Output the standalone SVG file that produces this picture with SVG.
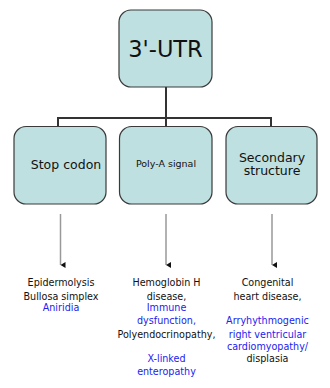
<svg xmlns="http://www.w3.org/2000/svg" width="330" height="388" viewBox="0 0 330 388">
<defs>
<style>
.box{fill:#bfe0e0;stroke:#3a3a3a;stroke-width:1.2}
.t{font-family:"DejaVu Sans",Verdana,sans-serif;text-anchor:middle;fill:#111}
.d{font-family:"DejaVu Sans",Verdana,sans-serif;text-anchor:middle;font-size:9.6px;fill:#111}
.b{fill:#2222ee}
.tree{fill:none;stroke:#333;stroke-width:2}
.arr{stroke:#999;stroke-width:1.5}
</style>
<marker id="ah" markerWidth="6" markerHeight="6" refX="3" refY="5" orient="auto" markerUnits="userSpaceOnUse" viewBox="0 0 6 6">
<path d="M0,0 L6,0 L3,5 Z" fill="#111"/>
</marker>
</defs>
<g id="connectors">
<path class="tree" d="M166,87 V118 M58,126 V118 H271 V126 M166,118 V126"/>
<line class="arr" x1="60.5" y1="214" x2="60.5" y2="265" marker-end="url(#ah)"/>
<line class="arr" x1="166" y1="214" x2="166" y2="265" marker-end="url(#ah)"/>
<line class="arr" x1="272" y1="214" x2="272" y2="265" marker-end="url(#ah)"/>
</g>
<g id="utr">
<rect class="box" x="119" y="10" width="93" height="77" rx="12"/>
<text class="t" x="165.5" y="57" font-size="22.5">3'-UTR</text>
</g>
<g id="stop">
<rect class="box" x="14" y="126.5" width="92" height="77.5" rx="12"/>
<text class="t" x="66" y="169" font-size="12.5">Stop codon</text>
</g>
<g id="polya">
<rect class="box" x="119.5" y="126.5" width="92.5" height="77.5" rx="12"/>
<text class="t" x="166" y="167" font-size="9.5">Poly-A signal</text>
</g>
<g id="secondary">
<rect class="box" x="226" y="126.5" width="91" height="77.5" rx="12"/>
<text class="t" x="272" y="162" font-size="12.5">Secondary</text>
<text class="t" x="272" y="175" font-size="12.5">structure</text>
</g>
<g id="stop-diseases">
<text class="d" x="61" y="286">Epidermolysis</text>
<text class="d" x="61" y="299.5">Bullosa simplex</text>
<text class="d b" x="61" y="311">Aniridia</text>
</g>
<g id="polya-diseases">
<text class="d" x="166.5" y="286">Hemoglobin H</text>
<text class="d" x="166.5" y="299.5">disease,</text>
<text class="d b" x="166.5" y="311">Immune</text>
<text class="d b" x="166.5" y="324">dysfunction,</text>
<text class="d" x="166.5" y="337.5">Polyendocrinopathy,</text>
<text class="d b" x="166.5" y="361.5">X-linked</text>
<text class="d b" x="166.5" y="375">enteropathy</text>
</g>
<g id="secondary-diseases">
<text class="d" x="267.5" y="286">Congenital</text>
<text class="d" x="267.5" y="299.5">heart disease,</text>
<text class="d b" x="267.5" y="324">Arryhythmogenic</text>
<text class="d b" x="267.5" y="337.5">right ventricular</text>
<text class="d b" x="267.5" y="349.5">cardiomyopathy/</text>
<text class="d" x="267.5" y="361.5">displasia</text>
</g>
</svg>
